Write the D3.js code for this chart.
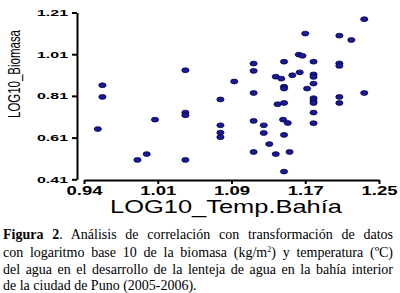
<!DOCTYPE html>
<html><head><meta charset="utf-8">
<script src="https://cdn.jsdelivr.net/npm/d3@7"></script>
<style>body{margin:0;background:#fff}svg{display:block}</style>
</head><body>
<svg id="c" width="400" height="293"></svg>
<script>
// ---- data ----
const tempLog = [0.950,0.950,0.945,1.007,0.998,0.988,1.040,1.040,1.040,1.040,
  1.078,1.078,1.078,1.078,1.093,1.114,1.114,1.114,1.114,1.114,
  1.125,1.125,1.131,1.138,1.138,1.144,1.147,1.147,1.147,1.156,
  1.164,1.163,1.167,1.170,1.179,1.179,1.179,1.179,1.172,1.179,
  1.179,1.179,1.179,1.179,1.207,1.207,1.207,1.220,1.234,1.207,
  1.207,1.234,1.140,1.147,1.146,1.151,1.147,1.153,1.147];
const biomasaLog = [0.861,0.805,0.651,0.696,0.531,0.503,0.933,0.730,0.717,0.503,
  0.793,0.669,0.634,0.612,0.879,0.965,0.930,0.824,0.690,0.541,
  0.669,0.632,0.579,0.531,0.902,0.893,0.974,0.854,0.845,0.909,
  0.923,1.008,1.002,1.109,0.974,0.913,0.901,0.869,0.845,0.799,
  0.786,0.776,0.730,0.679,1.099,0.966,0.954,1.078,1.178,0.805,
  0.776,0.824,0.770,0.776,0.696,0.680,0.623,0.541,0.447];
const xTickValues = [0.93,1.01,1.09,1.17,1.25];
const xTickLabels = ["0.94","1.01","1.09","1.17","1.25"];
const yTickValues = [0.41,0.61,0.81,1.01,1.21];
const yTickLabels = ["0.41","0.61","0.81","1.01","1.21"];
const xTitle = "LOG10_Temp.Bahía";
const yTitle = "LOG10_Biomasa";
const captionLines = [
  [{t:"Figura 2",b:true},{t:". Análisis de correlación con transformación de datos"}],
  [{t:"con logaritmo base 10 de la biomasa (kg/m"},{t:"2",sup:true},{t:") y temperatura (ºC)",after:true}],
  [{t:"del agua en el desarrollo de la lenteja de agua en la bahía interior"}],
  [{t:"de la ciudad de Puno (2005-2006)."}]
];

// ---- chart ----
const svg = d3.select("#c");
const x = d3.scaleLinear().domain([0.93,1.25]).range([84,379]);
const y = d3.scaleLinear().domain([0.41,1.21]).range([179.3,12.5]);

const yAx = svg.append("g").attr("transform","translate(77,0)")
  .call(d3.axisLeft(y).tickValues(yTickValues).tickFormat((d,i)=>yTickLabels[i]).tickSize(5).tickSizeOuter(0).tickPadding(4));
const xAx = svg.append("g").attr("transform","translate(0,180)")
  .call(d3.axisBottom(x).tickValues(xTickValues).tickFormat((d,i)=>xTickLabels[i]).tickSize(4).tickSizeOuter(0).tickPadding(2));
[yAx,xAx].forEach(g=>{
  g.select(".domain").attr("stroke","#000").attr("stroke-width",2);
  g.selectAll(".tick line").attr("stroke","#000").attr("stroke-width",2);
  g.selectAll("text").attr("fill","#000").attr("font-family","Liberation Sans, Arial, sans-serif").attr("font-weight","bold");
});
yAx.selectAll("text").attr("font-size",9.5).attr("textLength",31).attr("lengthAdjust","spacingAndGlyphs");
xAx.selectAll("text").attr("font-size",12).attr("textLength",36).attr("lengthAdjust","spacingAndGlyphs");

svg.append("text").attr("x",226).attr("y",213).attr("text-anchor","middle")
  .attr("font-family","Liberation Sans, Arial, sans-serif").attr("font-size",19)
  .attr("textLength",232).attr("lengthAdjust","spacingAndGlyphs").text(xTitle);
const yt = svg.append("text").attr("text-anchor","middle")
  .attr("font-family","Liberation Sans, Arial, sans-serif").attr("font-size",17).text(yTitle);
const ytw = yt.node().getComputedTextLength();
yt.attr("transform",`translate(20,74) rotate(-90) scale(${88/ytw},1)`);

svg.append("g").selectAll("ellipse").data(tempLog.map((v,i)=>[v,biomasaLog[i]])).join("ellipse")
  .attr("cx",d=>x(d[0])).attr("cy",d=>y(d[1])).attr("rx",3.6).attr("ry",2.4)
  .attr("fill","#1a1a96").attr("stroke","#00004a").attr("stroke-width",0.8);

// ---- caption ----
const baselines = [239,256.5,274,289.5];
captionLines.forEach((parts,li)=>{
  const t = svg.append("text").attr("x",3).attr("y",baselines[li])
    .attr("font-family","Liberation Serif, Times New Roman, serif").attr("font-size",14).attr("fill","#000");
  parts.forEach(p=>{
    const ts = t.append("tspan").text(p.t);
    if(p.b) ts.attr("font-weight","bold");
    if(p.sup) ts.attr("font-size",8).attr("dy",-5);
    if(p.after) ts.attr("dy",5);
  });
  if(li<3){
    const text = parts.map(p=>p.t).join("");
    const spaces = (text.match(/ /g)||[]).length;
    const w = t.node().getComputedTextLength();
    t.attr("word-spacing",(390-w)/spaces);
  }
});
</script>
</body></html>
